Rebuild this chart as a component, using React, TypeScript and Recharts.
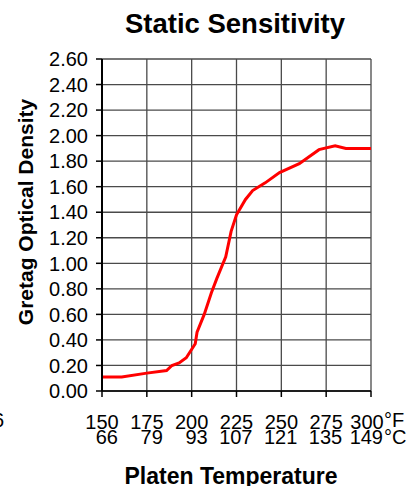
import React from "react";
import { LineChart, Line, XAxis, YAxis, CartesianGrid } from "recharts";

// platen temperature (°F) and measured density
const temperatures = [150, 161, 175, 186, 189, 193, 197, 202, 203, 207, 211, 214, 219, 222, 225, 230, 234, 241, 249, 260, 271, 280, 286, 300];
const densities = [0.11, 0.11, 0.14, 0.16, 0.2, 0.22, 0.26, 0.37, 0.46, 0.6, 0.77, 0.88, 1.05, 1.25, 1.38, 1.5, 1.57, 1.63, 1.71, 1.78, 1.89, 1.92, 1.9, 1.9];

const fahrenheitTicks = [150, 175, 200, 225, 250, 275, 300];
const celsiusLabels = ["66", "79", "93", "107", "121", "135", "149"];
const densityTicks = [0, 0.2, 0.4, 0.6, 0.8, 1.0, 1.2, 1.4, 1.6, 1.8, 2.0, 2.2, 2.4, 2.6];

const data = temperatures.map((t, i) => ({ temp: t, density: densities[i] }));

const FONT = '"Liberation Sans", Arial, sans-serif';

function TempTick({ x, payload }: any) {
    const idx = fahrenheitTicks.indexOf(payload.value);
    // last label sits a bit left to leave room for the unit
    const cx = idx === fahrenheitTicks.length - 1 ? x - 4 : x;
    return (
        <g fontFamily={FONT} fontSize={20} fill="#000">
            <text x={cx} y={429} textAnchor="middle" fill="#000">{payload.value}</text>
            <text x={cx + 16} y={444} textAnchor="end" fill="#000">{celsiusLabels[idx]}</text>
        </g>
    );
}

function DensityTick({ y, payload }: any) {
    return (
        <text x={88} y={y} dy="0.36em" textAnchor="end" fontFamily={FONT} fontSize={20} fill="#000">
            {payload.value.toFixed(2)}
        </text>
    );
}

export default function App() {
    return (
        <div style={{ position: "relative", width: 412, height: 486, background: "#fff" }}>
            <style>{"body{margin:0}"}</style>
            <LineChart
                width={412}
                height={486}
                data={data}
                margin={{ top: 59, right: 41, left: 42, bottom: 35 }}
            >
                <CartesianGrid stroke="#4a4a4a" strokeWidth={1.3} />
                <XAxis
                    type="number"
                    dataKey="temp"
                    domain={[150, 300]}
                    ticks={fahrenheitTicks}
                    interval={0}
                    height={60}
                    tickSize={6}
                    axisLine={{ stroke: "#000", strokeWidth: 1.5 }}
                    tickLine={{ stroke: "#000", strokeWidth: 1.5 }}
                    tick={<TempTick />}
                />
                <YAxis
                    type="number"
                    domain={[0, 2.6]}
                    ticks={densityTicks}
                    interval={0}
                    width={60}
                    tickSize={6}
                    axisLine={{ stroke: "#000", strokeWidth: 2 }}
                    tickLine={{ stroke: "#000", strokeWidth: 1.5 }}
                    tick={<DensityTick />}
                />
                <Line
                    type="linear"
                    dataKey="density"
                    stroke="#ff0000"
                    strokeWidth={3}
                    dot={false}
                    isAnimationActive={false}
                />
            </LineChart>
            <svg
                width={412}
                height={486}
                style={{ position: "absolute", left: 0, top: 0, pointerEvents: "none" }}
                fontFamily={FONT}
            >
                <text x={235} y={33} textAnchor="middle" fontSize={27.5} fontWeight="bold">Static Sensitivity</text>
                <text transform="translate(33,212) rotate(-90)" textAnchor="middle" fontSize={21} fontWeight="bold">
                    Gretag Optical Density
                </text>
                <text x={231} y={484} textAnchor="middle" fontSize={23} fontWeight="bold">Platen Temperature</text>
                <text x={384} y={427} fontSize={20}>°F</text>
                <text x={384} y={444} fontSize={20}>°C</text>
                <text x={4} y={427} textAnchor="end" fontSize={20}>6</text>
            </svg>
        </div>
    );
}
